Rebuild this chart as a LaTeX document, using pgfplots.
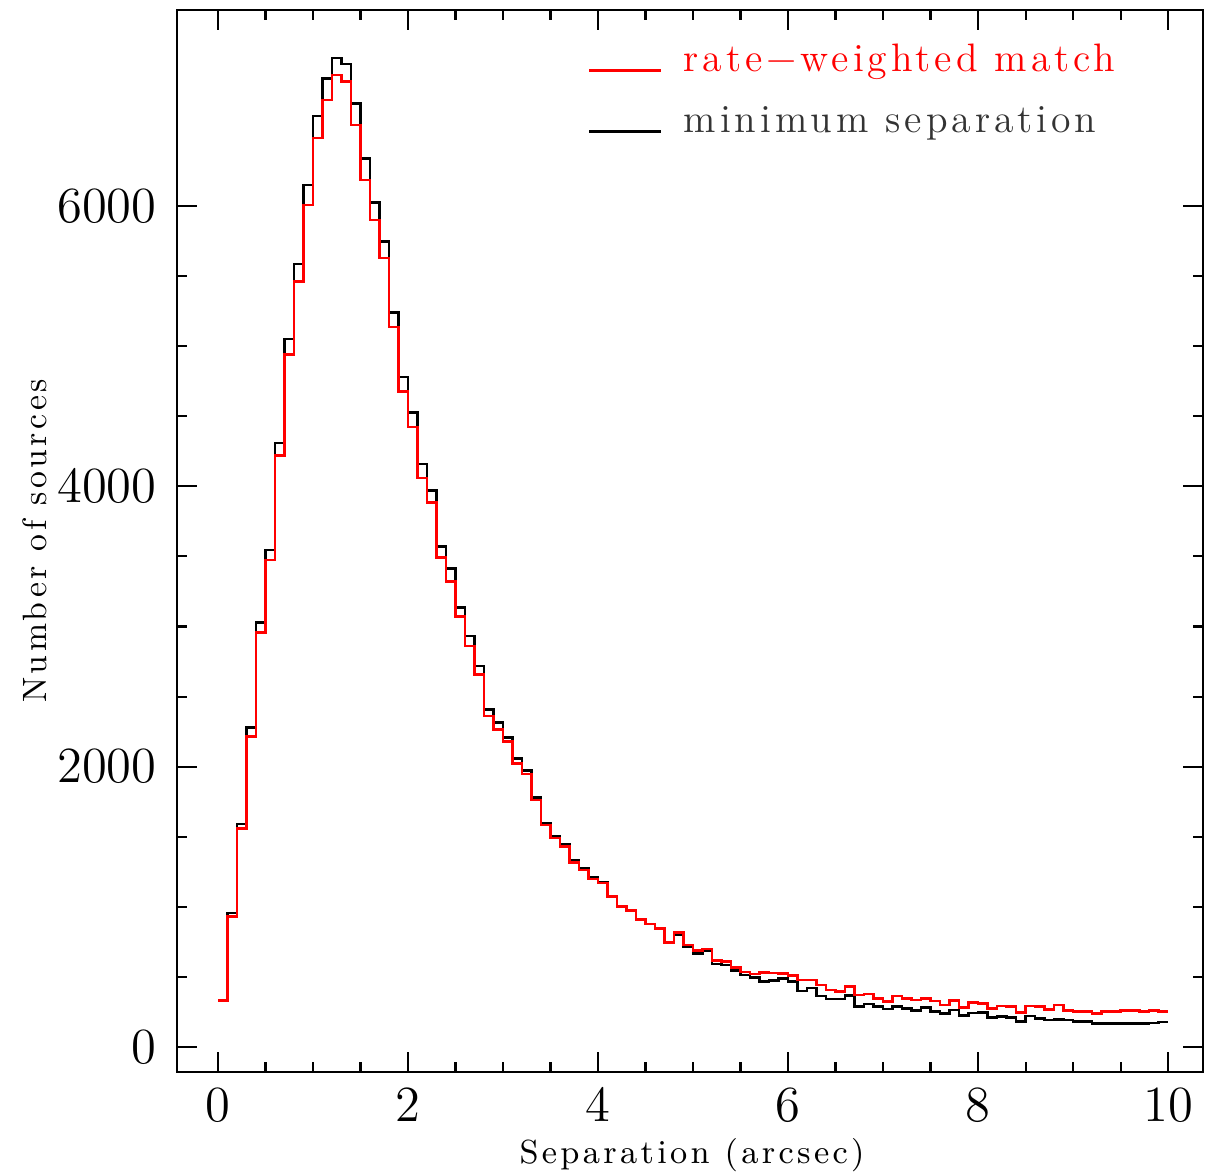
\documentclass[border=0pt]{standalone}
\usepackage{fontspec}
\setmainfont{Latin Modern Roman}
\usepackage{pgfplots}
\pgfplotsset{compat=1.18}
\usepackage{pgfplotstable}

\pgfplotstableread{
x B R
0.0 330 330
0.1 955 930
0.2 1590 1560
0.3 2280 2215
0.4 3030 2955
0.5 3545 3475
0.6 4310 4220
0.7 5050 4940
0.8 5586 5460
0.9 6150 6007
1.0 6642 6485
1.1 6911 6756
1.2 7056 6934
1.3 7013 6887
1.4 6732 6578
1.5 6340 6185
1.6 6026 5900
1.7 5745 5629
1.8 5239 5137
1.9 4780 4675
2.0 4526 4423
2.1 4159 4059
2.2 3969 3883
2.3 3569 3494
2.4 3415 3320
2.5 3134 3070
2.6 2932 2861
2.7 2718 2659
2.8 2409 2361
2.9 2314 2266
3.0 2209 2178
3.1 2060 2024
3.2 1971 1948
3.3 1780 1762
3.4 1597 1584
3.5 1500 1490
3.6 1446 1430
3.7 1329 1315
3.8 1275 1262
3.9 1211 1200
4.0 1176 1170
4.1 1076 1076
4.2 1003 1003
4.3 975 975
4.4 911 911
4.5 878 878
4.6 845 845
4.7 742 745
4.8 799 816
4.9 716 727
5.0 668 687
5.1 687 700
5.2 592 616
5.3 585 608
5.4 544 566
5.5 514 535
5.6 498 520
5.7 466 530
5.8 474 528
5.9 488 526
6.0 468 510
6.1 400 478
6.2 422 478
6.3 364 442
6.4 344 407
6.5 344 395
6.6 369 430
6.7 288 371
6.8 306 378
6.9 288 347
7.0 271 323
7.1 290 364
7.2 274 347
7.3 262 335
7.4 284 347
7.5 252 328
7.6 240 300
7.7 264 330
7.8 225 283
7.9 244 316
8.0 245 312
8.1 212 276
8.2 216 292
8.3 212 288
8.4 181 245
8.5 221 292
8.6 205 288
8.7 193 269
8.8 198 300
8.9 193 259
9.0 181 252
9.1 181 252
9.2 166 240
9.3 169 252
9.4 169 252
9.5 169 259
9.6 169 259
9.7 169 252
9.8 172 259
9.9 178 252
10.0 178 252
}\datatable

\begin{document}
\begin{tikzpicture}
\begin{axis}[
  scale only axis,
  width=102.6mm, height=106.2mm,
  xmin=-0.4316, xmax=10.368,
  ymin=-178, ymax=7398,
  xtick={0,2,4,6,8,10},
  ytick={0,2000,4000,6000},
  minor x tick num=3,
  minor y tick num=3,
  tick align=inside,
  xtick pos=both, ytick pos=both,
  xticklabel pos=lower, yticklabel pos=left,
  major tick length=2mm,
  minor tick length=1mm,
  every tick/.style={black, line width=0.6pt},
  axis line style={line width=0.7pt},
  scaled ticks=false,
  /pgf/number format/1000 sep={},
  ticklabel style={font=\fontsize{13.5}{16}\selectfont},
  yticklabel style={xshift=-0.8mm},
  xticklabel style={yshift=-0.4mm},
  xlabel={Separation (arcsec)},
  ylabel={Number of sources},
  xlabel style={font=\fontsize{9.5}{11}\selectfont\addfontfeature{LetterSpace=10}, at={(axis description cs:0.502,-0.0857)}, anchor=base, inner sep=0pt},
  ylabel style={font=\fontsize{9.6}{11}\selectfont\addfontfeature{LetterSpace=10.5}, at={(axis description cs:-0.1257,0.5)}, anchor=south, inner sep=0pt},
  legend style={at={(rel axis cs:0.40,0.975)}, anchor=north west, draw=none, fill=none,
    font=\fontsize{11.3}{13}\selectfont\addfontfeature{LetterSpace=10},
    row sep=1.5mm, inner sep=0pt, cells={anchor=west}},
  legend image code/.code={\draw[#1] (0mm,-1.0mm) -- (7.2mm,-1.0mm); \path (8.6mm,0mm);},
  legend cell align=left,
]
\addplot[const plot, black, line width=0.75pt, forget plot] table[x=x, y=B] {\datatable};
\addplot[const plot, red, line width=0.75pt] table[x=x, y=R] {\datatable};
\addlegendentry{\textcolor{red}{rate−weighted match}}
\addlegendimage{black, line width=0.75pt}
\addlegendentry{\textcolor{black!80}{minimum separation}}
\end{axis}
\path ([xshift=-17.7mm,yshift=-10.1mm]current axis.south west) rectangle ([xshift=0.2mm,yshift=1mm]current axis.north east);
\end{tikzpicture}
\end{document}
